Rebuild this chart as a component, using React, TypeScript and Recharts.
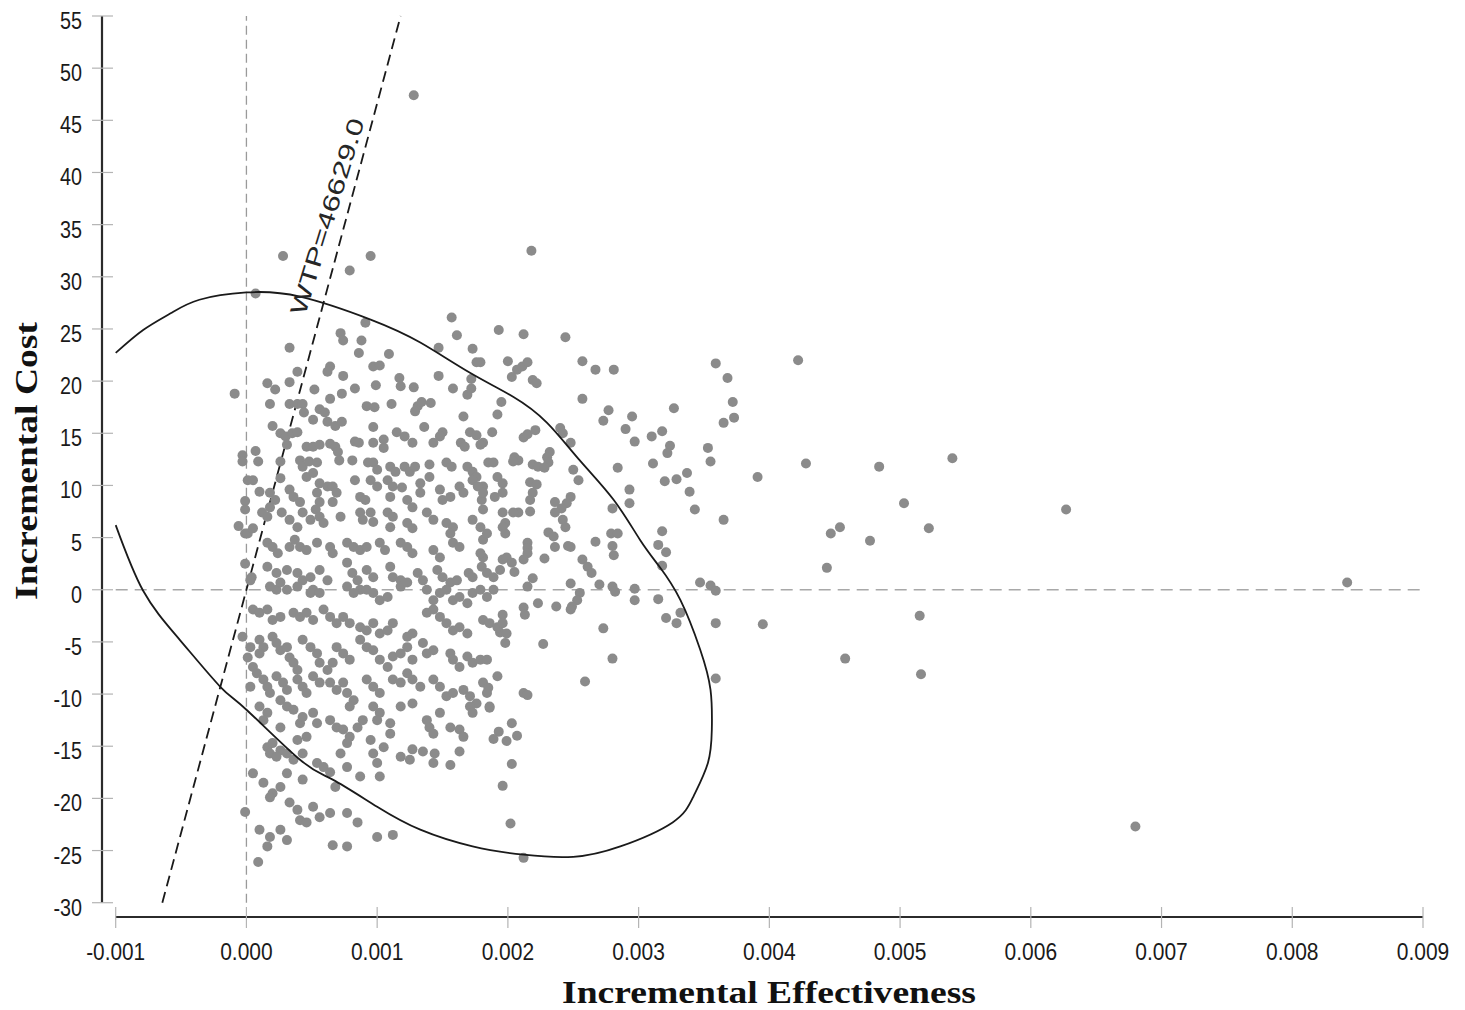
import { ReferenceLine, Scatter, ScatterChart, XAxis, YAxis } from 'recharts';

type Pair = [number, number];

const effectTicks = [-0.001, 0, 0.001, 0.002, 0.003, 0.004, 0.005, 0.006, 0.007, 0.008, 0.009];
const costTicks = [-30, -25, -20, -15, -10, -5, 0, 5, 10, 15, 20, 25, 30, 35, 40, 45, 50, 55];
const wtp = 46629;
const wtpLabel = 'WTP=46629.0';

// the axes are drawn a little outside the data frame, so both domains run past the end ticks
const effectDomain: [number, number] = [-0.0011048, 0.009];
const costDomain: [number, number] = [-31.37, 55];

// [incremental effectiveness, incremental cost]
const outliers: Pair[] = [
  [0.00128, 47.4], [0.00028, 32.0], [0.00095, 32.0], [0.00079, 30.6], [0.00218, 32.5], [0.00007, 28.4],
  [-0.00009, 18.8], [0.00422, 22.0], [0.00428, 12.1], [0.00484, 11.8], [0.0054, 12.6], [0.00503, 8.3],
  [0.00627, 7.7], [0.00447, 5.4], [0.00454, 6.0], [0.00477, 4.7], [0.00522, 5.9], [0.00444, 2.1],
  [0.00842, 0.7], [0.00395, -3.3], [0.00515, -2.5], [0.00458, -6.6], [0.00516, -8.1], [0.0068, -22.7],
  [0.00391, 10.8],
];

const leftColumn: Pair[] = [
  [-0.00003, 12.9], [-0.00003, 12.3], [-0.00001, 8.5], [-0.00001, 7.7], [-0.00006, 6.1], [-0.00001, 5.4],
  [-0.00001, 2.5], [-0.00003, -4.5], [-0.00001, -21.3], [0.00009, -26.1],
];

const eastCloud: Pair[] = [
  [0.00157, 26.1], [0.00161, 24.4], [0.00193, 24.9], [0.00212, 24.5], [0.00244, 24.2], [0.002, 21.9],
  [0.00207, 21.1], [0.00211, 21.4], [0.00215, 21.8], [0.00203, 20.4], [0.00219, 20.1], [0.00222, 19.8],
  [0.00257, 21.9], [0.00267, 21.1], [0.00281, 21.1], [0.00359, 21.7], [0.00368, 20.3], [0.00372, 18.0],
  [0.00365, 16.0], [0.00373, 16.5], [0.00327, 17.4], [0.00257, 18.3], [0.00277, 17.2], [0.00273, 16.2],
  [0.00295, 16.6], [0.0029, 15.4], [0.00297, 14.2], [0.0031, 14.7], [0.00318, 15.2], [0.00324, 13.8],
  [0.00322, 13.1], [0.00353, 13.6], [0.00355, 12.3], [0.00311, 12.1], [0.00284, 11.7], [0.00337, 11.2],
  [0.00329, 10.6], [0.0032, 10.4], [0.00339, 9.4], [0.00343, 7.7], [0.00365, 6.7], [0.00293, 9.6],
  [0.00293, 8.3], [0.0028, 7.8], [0.00318, 5.6], [0.00315, 4.3], [0.00321, 3.6], [0.00318, 2.3],
  [0.00279, 5.4], [0.00284, 5.4], [0.0028, 4.2], [0.00281, 3.3], [0.00267, 4.6], [0.00248, 4.1],
  [0.00257, 2.9], [0.00261, 2.2], [0.00264, 1.6], [0.00248, 0.6], [0.0027, 0.5], [0.0028, 0.3],
  [0.00282, -0.2], [0.00297, 0.1], [0.00297, -1.0], [0.00315, -0.9], [0.00347, 0.7], [0.00355, 0.4],
  [0.00359, -0.1], [0.00255, -0.3], [0.00253, -1.0], [0.00249, -1.6], [0.00248, -1.9], [0.00237, -1.6],
  [0.00223, -1.3], [0.00321, -2.7], [0.00329, -3.2], [0.00332, -2.2], [0.00359, -3.2], [0.00273, -3.7],
  [0.00227, -5.2], [0.0028, -6.6], [0.00259, -8.8], [0.00359, -8.5], [0.00212, -9.9], [0.00215, -10.1],
  [0.00186, -11.3], [0.00203, -12.8], [0.00193, -13.6], [0.00189, -14.3], [0.00199, -14.5], [0.00207, -14.0],
  [0.00203, -16.7], [0.00196, -18.8], [0.00202, -22.4], [0.00212, -25.7], [0.00181, -8.9], [0.00185, -9.4],
  [0.00179, 21.8], [0.00181, 14.1], [0.00212, 14.6], [0.00215, 14.9], [0.00221, 15.3], [0.0024, 15.5],
  [0.00242, 15.0], [0.00232, 13.2], [0.0023, 12.7], [0.00231, 12.2], [0.00248, 14.1], [0.00205, 12.7],
  [0.00208, 12.4], [0.00219, 12.0], [0.00223, 11.8], [0.00228, 11.7], [0.0025, 11.5], [0.00254, 10.5],
  [0.00217, 10.3], [0.00222, 10.1], [0.00219, 9.3], [0.00217, 8.6], [0.00181, 9.9], [0.0018, 8.6],
  [0.00248, 8.9], [0.00245, 8.3], [0.00241, 7.8], [0.00236, 8.4], [0.00236, 7.4], [0.00242, 6.7],
  [0.00244, 6.0], [0.00181, 7.7], [0.00196, 7.4], [0.00198, 6.4], [0.00208, 7.4], [0.00217, 7.5],
  [0.00181, 4.8], [0.00231, 5.5], [0.00235, 5.1], [0.00236, 4.1], [0.00246, 4.2], [0.00215, 4.5],
  [0.00215, 4.0], [0.00215, 3.5], [0.00212, 2.9], [0.00196, 2.9], [0.00194, 1.9], [0.00181, 3.1],
  [0.0018, 2.2], [0.00228, 3.0], [0.00205, 1.7], [0.00219, 1.1], [0.00215, 0.3], [0.00212, -1.7],
  [0.00213, -2.4], [0.00196, -2.4], [0.00194, -4.1],
];

const northCloud: Pair[] = [
  [0.00091, 25.6], [0.00072, 24.6], [0.00074, 23.9], [0.00088, 23.9], [0.00033, 23.2], [0.00086, 22.7],
  [0.00109, 22.6], [0.00147, 23.2], [0.00173, 23.1], [0.00176, 21.8], [0.00097, 21.4], [0.00102, 21.5],
  [0.00064, 21.4], [0.00062, 20.9], [0.00074, 20.5], [0.00039, 20.9], [0.00033, 19.9], [0.00016, 19.8],
  [0.00022, 19.2], [0.00052, 19.2], [0.00083, 19.3], [0.00099, 19.6], [0.00117, 20.3], [0.00118, 19.5],
  [0.00128, 19.4], [0.00147, 20.5], [0.00158, 19.3], [0.00172, 20.2], [0.00169, 18.7], [0.00172, 19.3],
  [0.00195, 18.0], [0.00018, 17.8], [0.00033, 17.8], [0.00039, 17.8], [0.00043, 17.8], [0.00064, 18.3],
  [0.00073, 18.8], [0.00092, 17.6], [0.00098, 17.5], [0.00111, 17.8], [0.00131, 17.6], [0.00134, 18.0],
  [0.00141, 17.9], [0.00129, 17.1], [0.00166, 16.6], [0.00192, 16.8], [0.00044, 17.0], [0.00056, 17.3],
  [0.0006, 17.0], [0.0002, 15.7], [0.00026, 15.0], [0.0003, 14.7], [0.00035, 15.0], [0.00039, 15.1],
  [0.00051, 16.3], [0.00062, 16.1], [0.00068, 15.7], [0.00073, 16.1], [0.00097, 15.6], [0.00115, 15.1],
  [0.00136, 15.6], [0.00121, 14.7], [0.00127, 14.1], [0.0015, 15.1], [0.00148, 14.7], [0.00171, 15.1],
  [0.00176, 14.8], [0.00188, 15.1], [0.00164, 14.1], [0.00167, 13.7], [0.00143, 14.1], [0.00179, 13.9],
  [0.00204, 12.3], [0.00007, 13.3], [0.00009, 12.3], [0.00031, 13.9], [0.00046, 13.7], [0.00051, 13.7],
  [0.00056, 13.9], [0.00064, 14.0], [0.00068, 13.7], [0.00081, 12.4], [0.00083, 14.2], [0.00086, 14.1],
  [0.00097, 14.1], [0.00105, 14.4], [0.00105, 13.6], [0.0007, 13.2], [0.00071, 12.4], [0.00041, 12.4],
  [0.00043, 11.8], [0.00048, 12.3], [0.00054, 12.2], [0.00026, 12.3], [0.00093, 12.2], [0.00097, 12.2],
  [0.001, 11.5], [0.0011, 11.8], [0.00114, 11.3], [0.00121, 11.8], [0.00125, 11.3], [0.00129, 11.8],
  [0.0014, 12.0], [0.0014, 10.8], [0.00153, 12.2], [0.00157, 11.8], [0.00169, 11.8], [0.00173, 11.3],
  [0.00176, 10.8], [0.00185, 12.2], [0.00189, 12.2], [0.00192, 10.8], [0.00196, 10.2], [0.00083, 10.5],
  [0.00046, 10.8], [0.00051, 11.2], [0.00056, 10.2], [0.00062, 9.9], [0.00026, 10.7], [0.0001, 9.4],
  [0.00001, 10.5], [0.00005, 10.5], [0.00018, 9.3], [0.00022, 8.6], [0.00018, 7.9], [0.00033, 9.6],
  [0.00036, 8.9], [0.00041, 8.4], [0.00054, 9.3], [0.00056, 8.4], [0.00053, 7.7], [0.00066, 9.9],
  [0.00069, 9.3], [0.00066, 8.4], [0.00087, 8.9], [0.00091, 8.6], [0.00095, 10.5], [0.001, 9.9],
  [0.00108, 10.5], [0.00112, 9.9], [0.0011, 8.9], [0.00119, 9.8], [0.00123, 8.6], [0.00127, 7.9],
  [0.00133, 10.2], [0.00133, 9.3], [0.00148, 9.6], [0.0015, 8.6], [0.00156, 8.9], [0.00163, 9.9],
  [0.00166, 9.3], [0.00173, 10.5], [0.00177, 9.9], [0.00181, 9.3], [0.0019, 8.9], [0.00196, 9.3],
  [0.00204, 7.4], [0.00012, 7.4], [0.00016, 7.0], [0.00001, 5.4], [0.00005, 5.9], [0.00027, 7.4],
  [0.00033, 6.7], [0.00039, 6.0], [0.00043, 7.4], [0.00049, 6.7], [0.00056, 7.0], [0.00059, 6.4],
  [0.00072, 7.0], [0.00087, 7.4], [0.00095, 7.4], [0.00089, 6.7], [0.00097, 6.5], [0.00108, 7.4],
  [0.00112, 7.0], [0.0011, 6.0], [0.00123, 6.4], [0.00127, 5.9], [0.00138, 7.4], [0.00143, 6.7],
  [0.00153, 6.4], [0.00158, 6.0], [0.00156, 5.4], [0.00173, 6.7], [0.00179, 6.0], [0.00184, 5.4],
  [0.00196, 6.0], [0.00198, 5.4], [0.00016, 4.5], [0.0002, 4.1], [0.00024, 3.5], [0.00033, 4.1],
  [0.00037, 4.8], [0.00041, 4.1], [0.00046, 3.8], [0.00054, 4.5], [0.00064, 4.1], [0.00066, 3.5],
  [0.00077, 4.5], [0.00082, 4.1], [0.00087, 3.8], [0.00092, 4.1], [0.00102, 4.5], [0.00106, 3.8],
  [0.00118, 4.5], [0.00123, 4.1], [0.00127, 3.5], [0.00143, 3.8], [0.00148, 3.1], [0.00158, 4.5],
  [0.00163, 4.1], [0.00179, 3.5], [0.00199, 3.1], [0.00203, 2.6], [0.00004, 1.2], [0.00016, 2.2],
  [0.00023, 1.6], [0.00031, 1.9], [0.00039, 1.6], [0.00043, 0.9], [0.00049, 1.2], [0.00056, 1.9],
  [0.00062, 0.9], [0.00077, 2.6], [0.00081, 1.6], [0.00085, 0.9], [0.00092, 1.9], [0.00097, 1.2],
  [0.0011, 2.2], [0.00112, 1.2], [0.00118, 0.9], [0.00131, 1.6], [0.00135, 0.9], [0.00146, 1.9],
  [0.0015, 1.2], [0.00156, 0.7], [0.00161, 0.9], [0.0017, 1.6], [0.00173, 1.2], [0.00184, 1.6],
  [0.00189, 1.2], [0.00023, 0.0], [0.00031, 0.0], [0.00051, 0.0], [0.00087, 0.0], [0.00092, 0.0],
  [0.00138, 0.0], [0.00189, 0.0],
];

const southCloud: Pair[] = [
  [0.00003, 0.9], [0.00018, 0.3], [0.00026, 0.7], [0.00039, 0.3], [0.00049, -0.3], [0.00056, -0.3],
  [0.00077, 0.3], [0.00082, -0.3], [0.00097, -0.3], [0.00102, -1.0], [0.00108, -0.7], [0.00118, 0.3],
  [0.00123, 0.7], [0.00143, -1.0], [0.00148, -0.3], [0.00153, 0.0], [0.00158, -1.0], [0.00163, -0.7],
  [0.00169, -1.3], [0.00173, -0.3], [0.00179, 0.0], [0.00184, -0.7], [0.00005, -1.9], [0.0001, -2.2],
  [0.00016, -1.9], [0.0002, -2.9], [0.00026, -2.6], [0.00036, -2.2], [0.00041, -2.6], [0.00046, -2.2],
  [0.00051, -2.9], [0.00059, -1.9], [0.00064, -2.6], [0.00069, -3.2], [0.00074, -2.6], [0.00079, -3.2],
  [0.00087, -3.6], [0.00092, -3.9], [0.00097, -3.2], [0.00102, -4.2], [0.00108, -3.9], [0.00112, -3.2],
  [0.00123, -4.5], [0.00127, -4.2], [0.00138, -2.2], [0.00143, -1.9], [0.00148, -2.6], [0.00153, -3.2],
  [0.00158, -3.9], [0.00163, -3.6], [0.00169, -4.2], [0.00181, -2.9], [0.00186, -3.2], [0.00192, -3.6],
  [0.00196, -3.2], [0.00199, -4.2], [0.00198, -5.1], [0.00003, -5.5], [0.00001, -6.5], [0.0001, -4.8],
  [0.00013, -5.5], [0.0001, -6.1], [0.0002, -4.5], [0.00023, -5.1], [0.00026, -5.8], [0.00031, -5.5],
  [0.00033, -6.5], [0.00036, -7.0], [0.00039, -7.7], [0.00043, -4.8], [0.00049, -5.5], [0.00054, -6.1],
  [0.00056, -7.0], [0.00062, -7.7], [0.00066, -7.0], [0.00069, -5.5], [0.00074, -6.1], [0.00079, -6.7],
  [0.00087, -4.8], [0.00092, -5.5], [0.00097, -5.8], [0.00102, -6.7], [0.00108, -7.4], [0.00112, -6.4],
  [0.00118, -6.1], [0.00123, -5.5], [0.00127, -6.7], [0.00135, -5.1], [0.00138, -6.1], [0.00143, -5.8],
  [0.00156, -6.1], [0.00158, -6.7], [0.00163, -7.4], [0.00169, -6.4], [0.00173, -7.0], [0.00179, -6.7],
  [0.00184, -6.7], [0.00192, -8.3], [0.00005, -7.4], [0.00008, -8.0], [0.00013, -8.6], [0.00016, -9.3],
  [0.00018, -9.9], [0.00023, -8.3], [0.00028, -8.9], [0.00031, -9.6], [0.00039, -8.6], [0.00043, -9.3],
  [0.00046, -9.9], [0.00051, -8.3], [0.00056, -8.9], [0.00064, -8.9], [0.00069, -9.6], [0.00074, -8.9],
  [0.00077, -9.9], [0.00082, -10.6], [0.00079, -11.2], [0.00092, -8.6], [0.00097, -9.3], [0.00102, -9.9],
  [0.00112, -8.6], [0.00118, -8.9], [0.00123, -8.0], [0.00127, -8.6], [0.00133, -9.3], [0.00143, -8.6],
  [0.00148, -9.3], [0.00153, -10.2], [0.00158, -9.9], [0.00166, -9.6], [0.00171, -10.2], [0.00176, -10.9],
  [0.00184, -9.9], [0.00186, -11.2], [0.00003, -9.3], [0.0001, -11.2], [0.00016, -11.8], [0.00013, -12.5],
  [0.00026, -10.6], [0.00031, -11.2], [0.00036, -11.5], [0.00041, -12.8], [0.00043, -12.2], [0.00051, -11.8],
  [0.00054, -12.8], [0.00064, -12.5], [0.00069, -13.2], [0.00074, -13.4], [0.00079, -14.1], [0.00077, -14.7],
  [0.00085, -13.2], [0.00089, -12.5], [0.00097, -11.2], [0.00102, -11.8], [0.001, -12.5], [0.0011, -12.8],
  [0.0011, -13.8], [0.00118, -11.2], [0.00127, -10.9], [0.00138, -12.5], [0.0014, -13.2], [0.00143, -13.8],
  [0.00148, -11.8], [0.00156, -13.2], [0.00163, -13.4], [0.00166, -14.1], [0.00171, -11.2], [0.00173, -11.8],
  [0.00016, -15.1], [0.0002, -14.7], [0.00026, -15.4], [0.00031, -15.7], [0.00036, -16.3], [0.00043, -15.7],
  [0.00018, -15.7], [0.00023, -16.0], [0.00054, -16.6], [0.00059, -17.0], [0.00064, -17.5], [0.00039, -14.4],
  [0.00046, -14.1], [0.00026, -13.2], [0.00072, -15.7], [0.00077, -17.0], [0.00087, -17.9], [0.00095, -14.4],
  [0.00097, -15.7], [0.001, -16.6], [0.00105, -15.1], [0.00118, -16.0], [0.00127, -15.3], [0.00135, -15.5],
  [0.00144, -15.7], [0.00143, -16.6], [0.00156, -16.8], [0.00163, -15.5], [0.00102, -17.9], [0.00005, -17.6],
  [0.00013, -18.5], [0.0002, -19.5], [0.00026, -18.9], [0.00031, -17.6], [0.00018, -19.9], [0.00033, -20.4],
  [0.00039, -21.1], [0.00043, -18.2], [0.00051, -20.8], [0.00056, -21.8], [0.00064, -21.4], [0.00041, -22.1],
  [0.00046, -22.3], [0.00077, -21.4], [0.00085, -22.3], [0.00068, -18.9], [0.0001, -23.0], [0.00018, -23.7],
  [0.00016, -24.6], [0.00026, -23.0], [0.00031, -24.0], [0.00066, -24.5], [0.00077, -24.6], [0.001, -23.7],
  [0.00112, -23.5], [0.00125, -16.3],
];

// confidence ellipse outline (clipped at -0.001 like the original)
const ellipseOutline: Pair[] = [
  [-0.001, 22.7], [-0.00079, 24.9], [-0.00058, 26.5], [-0.00036, 27.8], [0.0, 28.5], [0.00041, 28.1],
  [0.00095, 25.9], [0.00133, 23.7], [0.00171, 20.8], [0.00204, 18.5], [0.0023, 16.0], [0.00255, 12.4],
  [0.00281, 8.6], [0.00301, 4.8], [0.00316, 2.2], [0.00332, -1.0], [0.00347, -5.7], [0.00355, -9.6],
  [0.00356, -13.4], [0.00353, -16.6], [0.00342, -19.8], [0.00326, -22.3], [0.00286, -24.6], [0.0025, -25.6],
  [0.00212, -25.4], [0.00173, -24.6], [0.00133, -23.0], [0.001, -20.8], [0.00066, -18.2], [0.00041, -16.3],
  [0.0, -11.5], [-0.0002, -9.3], [-0.00051, -4.8], [-0.00079, -0.1], [-0.001, 6.2],
];

const wtpLabelAnchor: Pair[] = [[0.000617, 35.8]];

const toPoints = (rows: Pair[]) => rows.map(([effect, cost]) => ({ effect, cost }));

const cloud = toPoints([...outliers, ...leftColumn, ...eastCloud, ...northCloud, ...southCloud]);

const tickFont = "'Liberation Sans', Arial, sans-serif";
const titleFont = "'Liberation Serif', 'Times New Roman', serif";

// width the original gives each label (narrow, squeezed digits)
const labelWidth = (s: string, digit: number) => {
  const marks = s.replace(/[0-9]/g, '').length;
  return (s.length - marks) * digit + marks * 6.5;
};

const EffectTick = ({ x, y, payload }: any) => {
  const label = Number(payload.value).toFixed(3);
  return (
    <g>
      <line x1={x} x2={x} y1={y - 10} y2={y + 11} stroke="#b4b4b4" strokeWidth={1.2} />
      <text
        x={x}
        y={y + 43}
        textAnchor="middle"
        fontFamily={tickFont}
        fontSize={23}
        fill="#1a1a1a"
        textLength={labelWidth(label, 11.5)}
        lengthAdjust="spacingAndGlyphs"
      >
        {label}
      </text>
    </g>
  );
};

const CostTick = ({ x, y, payload }: any) => {
  const label = String(payload.value);
  return (
    <g>
      <line x1={x - 10} x2={x + 11} y1={y} y2={y} stroke="#b4b4b4" strokeWidth={1.2} />
      <text
        x={x - 20}
        y={y + 13}
        textAnchor="end"
        fontFamily={tickFont}
        fontSize={23}
        fill="#1a1a1a"
        textLength={labelWidth(label, 11)}
        lengthAdjust="spacingAndGlyphs"
      >
        {label}
      </text>
    </g>
  );
};

const Dot = (p: any) => <circle cx={p.cx} cy={p.cy} r={5} fill="#8b8b8b" />;
const NoMark = () => <g />;

const WtpText = (p: any) => (
  <text
    x={p.cx}
    y={p.cy}
    dy="0.35em"
    transform={`rotate(-73 ${p.cx} ${p.cy})`}
    textAnchor="middle"
    fontFamily={tickFont}
    fontSize={23}
    fill="#262626"
    textLength={204}
    lengthAdjust="spacingAndGlyphs"
  >
    {wtpLabel}
  </text>
);

export default function App() {
  return (
    <div style={{ position: 'relative', width: 1465, height: 1010, overflow: 'hidden', background: '#fff' }}>
      <style>{'body{margin:0}'}</style>
      <ScatterChart width={1465} height={1010} margin={{ top: 16, right: 42, bottom: 33, left: 22 }}>
        <XAxis
          type="number"
          dataKey="effect"
          domain={effectDomain}
          allowDataOverflow
          ticks={effectTicks}
          interval={0}
          height={60}
          tickSize={0}
          tickMargin={0}
          axisLine={false}
          tickLine={false}
          tick={EffectTick}
        />
        <YAxis
          type="number"
          dataKey="cost"
          domain={costDomain}
          allowDataOverflow
          ticks={costTicks}
          interval={0}
          width={80}
          tickSize={0}
          tickMargin={0}
          axisLine={false}
          tickLine={false}
          tick={CostTick}
        />
        <Scatter data={cloud} shape={Dot} isAnimationActive={false} />
        <ReferenceLine
          segment={[{ x: 0, y: -30 }, { x: 0, y: 55 }]}
          stroke="#9a9a9a"
          strokeWidth={1.3}
          strokeDasharray="9 5"
          ifOverflow="visible"
        />
        <ReferenceLine
          segment={[{ x: -0.001, y: 0 }, { x: 0.009, y: 0 }]}
          stroke="#a8a8a8"
          strokeWidth={1.3}
          strokeDasharray="12 7"
          ifOverflow="visible"
        />
        <ReferenceLine
          segment={[{ x: -30 / wtp, y: -30 }, { x: 55 / wtp, y: 55 }]}
          stroke="#1a1a1a"
          strokeWidth={1.8}
          strokeDasharray="11 6"
          ifOverflow="visible"
        />
        <Scatter
          data={toPoints(ellipseOutline)}
          shape={NoMark}
          line={{ stroke: '#1a1a1a', strokeWidth: 1.8 }}
          lineJointType="natural"
          isAnimationActive={false}
        />
        <Scatter data={toPoints(wtpLabelAnchor)} shape={WtpText} isAnimationActive={false} />
        <ReferenceLine
          segment={[{ x: effectDomain[0], y: -30 }, { x: effectDomain[0], y: 55 }]}
          stroke="#2b2b2b"
          strokeWidth={2.2}
          ifOverflow="visible"
        />
        <ReferenceLine
          segment={[{ x: -0.001, y: costDomain[0] }, { x: 0.009, y: costDomain[0] }]}
          stroke="#2b2b2b"
          strokeWidth={2.2}
          ifOverflow="visible"
        />
      </ScatterChart>
      <svg
        width={1465}
        height={1010}
        style={{ position: 'absolute', left: 0, top: 0, pointerEvents: 'none' }}
      >
        <text
          x={769}
          y={1003}
          textAnchor="middle"
          fontFamily={titleFont}
          fontWeight="bold"
          fontSize={31}
          fill="#111"
          textLength={414}
          lengthAdjust="spacingAndGlyphs"
        >
          Incremental Effectiveness
        </text>
        <text
          transform="translate(37 461) rotate(-90)"
          textAnchor="middle"
          fontFamily={titleFont}
          fontWeight="bold"
          fontSize={31}
          fill="#111"
          textLength={278}
          lengthAdjust="spacingAndGlyphs"
        >
          Incremental Cost
        </text>
      </svg>
    </div>
  );
}
